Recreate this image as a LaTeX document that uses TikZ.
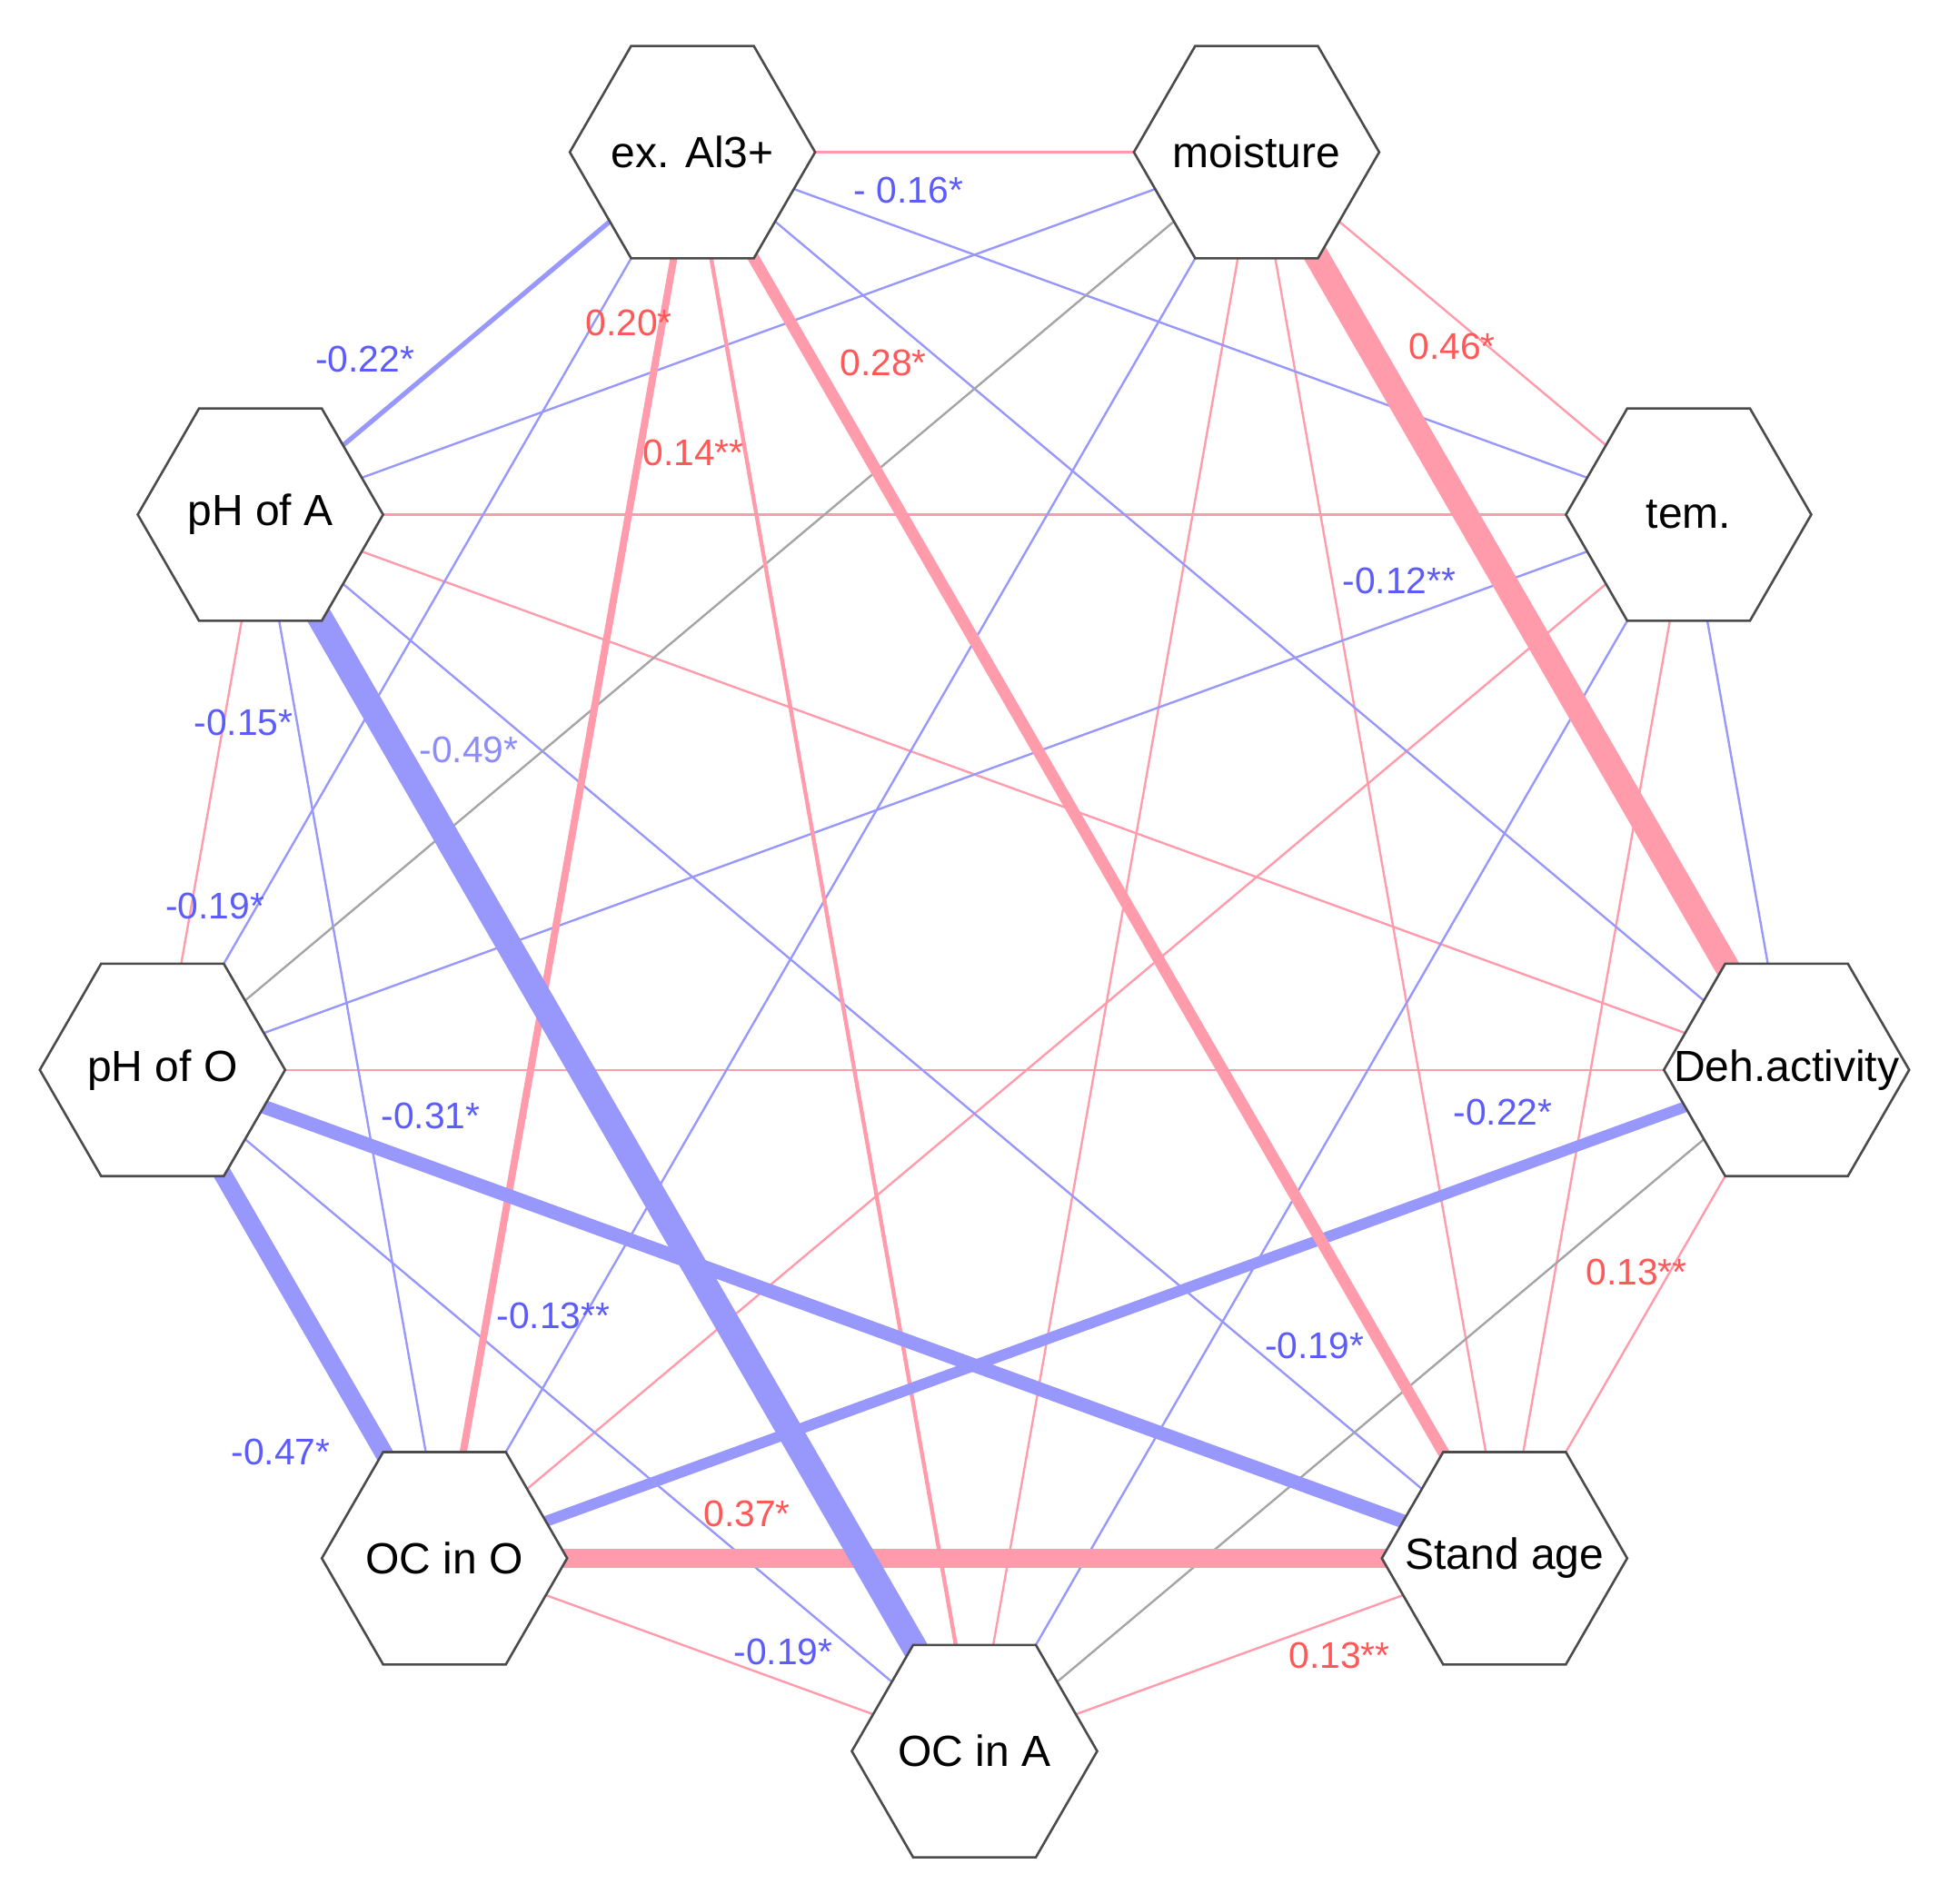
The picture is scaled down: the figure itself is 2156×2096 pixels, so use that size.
\documentclass[tikz,border=0pt]{standalone}
\usepackage{fontspec}
\setmainfont{Liberation Sans}
\usetikzlibrary{shapes.geometric,backgrounds}
\definecolor{pospink}{RGB}{255,155,171}
\definecolor{negblue}{RGB}{152,152,252}
\definecolor{nullgray}{RGB}{165,165,165}
\definecolor{poslab}{RGB}{255,88,88}
\definecolor{neglab}{RGB}{92,92,252}
\definecolor{neglablight}{RGB}{140,140,250}
\definecolor{hexline}{RGB}{75,75,75}
\begin{document}
\begin{tikzpicture}[x=0.25pt,y=-0.25pt,
  hexnode/.style={shape=regular polygon, regular polygon sides=6, minimum size=67.5pt,
    inner sep=0pt, outer sep=0pt, draw=hexline, line width=0.65pt, fill=white,
    font=\fontsize{12pt}{14pt}\selectfont},
  posedge/.style={draw=pospink},
  negedge/.style={draw=negblue},
  nuledge/.style={draw=nullgray},
  weak/.style={line width=0.6pt},
  poslabel/.style={text=poslab, inner sep=0pt, font=\fontsize{10.2pt}{12pt}\selectfont},
  neglabel/.style={text=neglab, inner sep=0pt, font=\fontsize{10.2pt}{12pt}\selectfont},
]
\useasboundingbox (0,0) rectangle (2156,2096);

% nodes on a circle, centre (1072.5,1020.25), radius 907.5
\node[hexnode] (A)  at (762.1,167.5)   {\makebox[0pt]{ex. Al3+}};
\node[hexnode] (M)  at (1382.9,167.5)  {\makebox[0pt]{moisture}};
\node[hexnode] (T)  at (1858.4,566.5)  {\makebox[0pt]{tem.}};
\node[hexnode] (PA) at (286.6,566.5)   {\makebox[0pt]{pH of A}};
\node[hexnode] (D)  at (1966.2,1177.8) {\makebox[0pt]{Deh.activity}};
\node[hexnode] (PO) at (178.8,1177.8)  {\makebox[0pt]{pH of O}};
\node[hexnode] (S)  at (1655.8,1715.4) {\makebox[0pt]{Stand age}};
\node[hexnode] (OO) at (489.2,1715.4)  {\makebox[0pt]{OC in O}};
\node[hexnode] (OA) at (1072.5,1927.75){\makebox[0pt]{OC in A}};

\begin{pgfonlayer}{background}
% weak edges
\draw[posedge,weak] (A.center) -- (M.center);
\draw[posedge,weak] (M.center) -- (T.center);
\draw[posedge,weak] (M.center) -- (OA.center);
\draw[posedge,weak] (M.center) -- (S.center);
\draw[posedge,weak] (PA.center) -- (T.center);
\draw[posedge,weak] (PA.center) -- (D.center);
\draw[posedge,weak] (PA.center) -- (PO.center);
\draw[posedge,weak] (T.center) -- (OO.center);
\draw[posedge,weak] (T.center) -- (S.center);
\draw[posedge,weak] (D.center) -- (PO.center);
\draw[posedge,weak] (D.center) -- (S.center);
\draw[posedge,weak] (S.center) -- (OA.center);
\draw[posedge,weak] (OA.center) -- (OO.center);
\draw[negedge,weak] (A.center) -- (T.center);
\draw[negedge,weak] (A.center) -- (D.center);
\draw[negedge,weak] (A.center) -- (PO.center);
\draw[negedge,weak] (M.center) -- (PA.center);
\draw[negedge,weak] (M.center) -- (OO.center);
\draw[negedge,weak] (PA.center) -- (S.center);
\draw[negedge,weak] (PA.center) -- (OO.center);
\draw[negedge,weak] (T.center) -- (PO.center);
\draw[negedge,weak] (T.center) -- (OA.center);
\draw[negedge,weak] (T.center) -- (D.center);
\draw[negedge,weak] (PO.center) -- (OA.center);
\draw[nuledge,weak] (M.center) -- (PO.center);
\draw[nuledge,weak] (D.center) -- (OA.center);
% stronger edges
\draw[negedge,line width=1.3pt] (A.center) -- (PA.center);
\draw[posedge,line width=1.1pt] (A.center) -- (OA.center);
\draw[posedge,line width=2pt] (A.center) -- (OO.center);
\draw[negedge,line width=3pt] (D.center) -- (OO.center);
\draw[posedge,line width=3.2pt] (A.center) -- (S.center);
\draw[negedge,line width=3.8pt] (PO.center) -- (S.center);
\draw[negedge,line width=5pt] (PO.center) -- (OO.center);
\draw[posedge,line width=5.4pt] (S.center) -- (OO.center);
\draw[negedge,line width=7pt] (PA.center) -- (OA.center);
\draw[posedge,line width=6.8pt] (M.center) -- (D.center);
\end{pgfonlayer}

% edge labels
\node[neglabel] (l1)  at (1000,209)   {- 0.16*};
\node[poslabel] (l2)  at (692,355)    {0.20*};
\node[neglabel] (l3)  at (401.5,395)  {-0.22*};
\node[poslabel] (l4)  at (972,399)    {0.28*};
\node[poslabel] (l5)  at (763,498)    {0.14**};
\node[poslabel] (l6)  at (1598,381)   {0.46*};
\node[neglabel] (l7)  at (1540,639)   {-0.12**};
\node[neglabel] (l8)  at (268,795)    {-0.15*};
\node[neglabel,text=neglablight] (l9) at (516,825) {-0.49*};
\node[neglabel] (l10) at (236.5,997)  {-0.19*};
\node[neglabel] (l11) at (474,1228)   {-0.31*};
\node[neglabel] (l12) at (1654,1224)  {-0.22*};
\node[poslabel] (l13) at (1801,1400)  {0.13**};
\node[neglabel] (l14) at (609,1448)   {-0.13**};
\node[neglabel] (l15) at (1446.5,1481){-0.19*};
\node[neglabel] (l16) at (309,1598)   {-0.47*};
\node[poslabel] (l17) at (822,1666.5) {0.37*};
\node[neglabel] (l18) at (862,1818)   {-0.19*};
\node[poslabel] (l19) at (1474,1822)  {0.13**};
\end{tikzpicture}
\end{document}
